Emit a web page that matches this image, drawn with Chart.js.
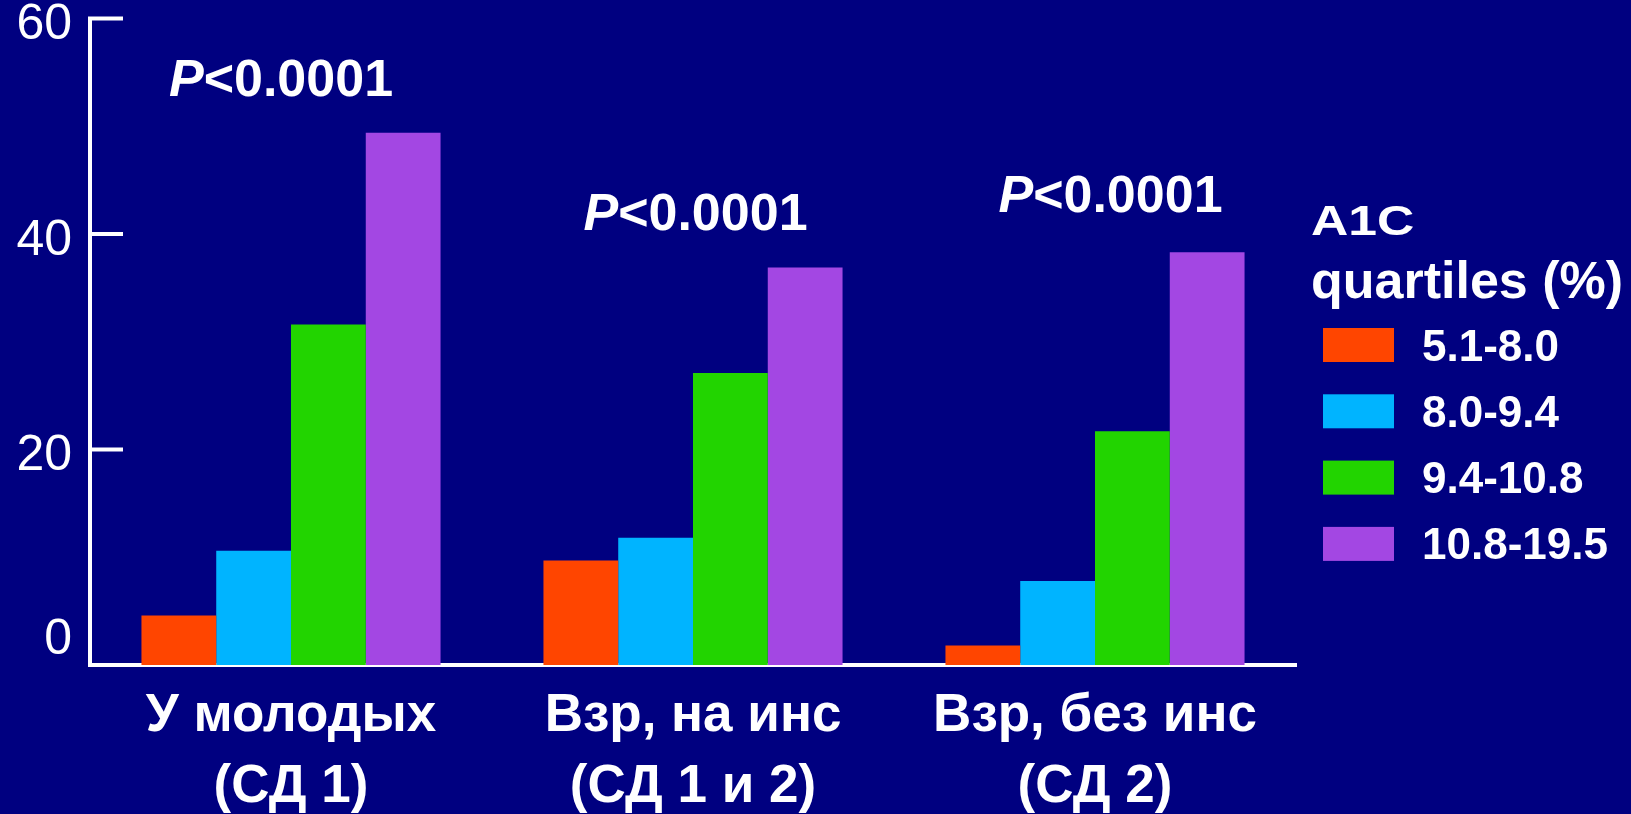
<!DOCTYPE html>
<html><head><meta charset="utf-8">
<script src="https://cdn.jsdelivr.net/npm/chart.js@4"></script>
<style>html,body{margin:0;padding:0;background:#000080;overflow:hidden}canvas{display:block}</style>
</head><body>
<canvas id="c" width="1631" height="814"></canvas>
<script>
// ---- data ----
const categories = [["У молодых","(СД 1)"],["Взр, на инс","(СД 1 и 2)"],["Взр, без инс","(СД 2)"]];
const seriesNames = ["5.1-8.0","8.0-9.4","9.4-10.8","10.8-19.5"];
const q1 = [4.6, 9.7, 1.8];
const q2 = [10.6, 11.8, 7.8];
const q3 = [31.6, 27.1, 21.7];
const q4 = [49.4, 36.9, 38.3];
const yTicks = [0, 20, 40, 60];
const pPrefix = "P";
const pLabels = ["<0.0001", "<0.0001", "<0.0001"];
const pLabelY = [54.5, 42.1, 43.8];
const legendTitle = ["A1C", "quartiles (%)"];
const colors = ['#FF4500', '#00B4FF', '#22D400', '#A347E3'];

const FONT = '"Liberation Sans", Arial, sans-serif';

const inwardTicks = {
  id: 'inwardTicks',
  afterDraw(chart) {
    const ctx = chart.ctx, y = chart.scales.y, a = chart.chartArea;
    ctx.save();
    ctx.strokeStyle = '#fff'; ctx.lineWidth = 4; ctx.lineCap = 'butt';
    y.ticks.forEach(t => {
      const py = y.getPixelForValue(t.value);
      if (t.value === 0) return;
      ctx.beginPath(); ctx.moveTo(a.left - 2, py); ctx.lineTo(a.left + 33, py); ctx.stroke();
    });
    ctx.restore();
  }
};

const pValues = {
  id: 'pValues',
  afterDraw(chart) {
    const ctx = chart.ctx, xs = chart.scales.x, ys = chart.scales.y;
    const dx = [-10, 2.5, 15.5];
    ctx.save();
    ctx.fillStyle = '#fff';
    ctx.textBaseline = 'alphabetic';
    ctx.textAlign = 'left';
    pLabels.forEach((lab, i) => {
      const cx = xs.getPixelForValue(i) + dx[i];
      const cy = ys.getPixelForValue(pLabelY[i]);
      ctx.font = 'italic bold 52px ' + FONT;
      const w1 = ctx.measureText(pPrefix).width;
      ctx.font = 'bold 52px ' + FONT;
      const w2 = ctx.measureText(lab).width;
      const x0 = cx - (w1 + w2) / 2, base = cy + 18.6;
      ctx.font = 'italic bold 52px ' + FONT;
      ctx.fillText(pPrefix, x0, base);
      ctx.font = 'bold 52px ' + FONT;
      ctx.fillText(lab, x0 + w1, base);
    });
    ctx.restore();
  }
};

const customLegend = {
  id: 'customLegend',
  afterDraw(chart) {
    const ctx = chart.ctx;
    ctx.save();
    ctx.fillStyle = '#fff';
    ctx.textBaseline = 'alphabetic';
    ctx.textAlign = 'left';
    ctx.font = 'bold 42px ' + FONT;
    ctx.save(); ctx.translate(1311, 235); ctx.scale(1.23, 1); ctx.fillText(legendTitle[0], 0, 0); ctx.restore();
    ctx.font = 'bold 52px ' + FONT;
    ctx.fillText(legendTitle[1], 1311, 298);
    chart.data.datasets.forEach((ds, i) => {
      const top = 328 + i * 66.3;
      ctx.fillStyle = ds.backgroundColor;
      ctx.fillRect(1323, top, 71, 34);
      ctx.fillStyle = '#fff';
      ctx.font = 'bold 44px ' + FONT;
      ctx.fillText(ds.label, 1422, top + 17 + 15.5);
    });
    ctx.restore();
  }
};

const seriesData = [q1, q2, q3, q4];
new Chart(document.getElementById('c'), {
  type: 'bar',
  data: {
    labels: categories,
    datasets: seriesNames.map((n, i) => ({
      label: n, data: seriesData[i], backgroundColor: colors[i], borderWidth: 0
    }))
  },
  options: {
    responsive: false, animation: false, devicePixelRatio: 1,
    layout: { padding: { top: 18, right: 335, left: 0, bottom: 0 } },
    plugins: { legend: { display: false }, tooltip: { enabled: false } },
    datasets: { bar: { barPercentage: 1, categoryPercentage: 0.744 } },
    scales: {
      x: {
        grid: { display: false, drawTicks: false },
        border: { display: true, color: '#fff', width: 4 },
        ticks: {
          color: '#fff', padding: 16, maxRotation: 0, autoSkip: false,
          font: { family: FONT, size: 53, weight: 'bold', lineHeight: 1.34 }
        },
        afterFit: s => { s.height = 149; }
      },
      y: {
        min: 0, max: 60,
        afterBuildTicks: s => { s.ticks = yTicks.map(v => ({ value: v })); },
        grid: { display: false, drawTicks: false },
        border: { display: true, color: '#fff', width: 4 },
        ticks: {
          color: '#fff', padding: 18, labelOffset: 7,
          callback: v => v === 0 ? ['0', ''] : String(v),
          font: ctx => ({ family: FONT, size: 50, weight: 'normal',
            lineHeight: (ctx.tick && ctx.tick.value === 0) ? 1.28 : 0.02 })
        },
        afterFit: s => { s.width = 90; }
      }
    }
  },
  plugins: [inwardTicks, pValues, customLegend]
});
</script>
</body></html>
